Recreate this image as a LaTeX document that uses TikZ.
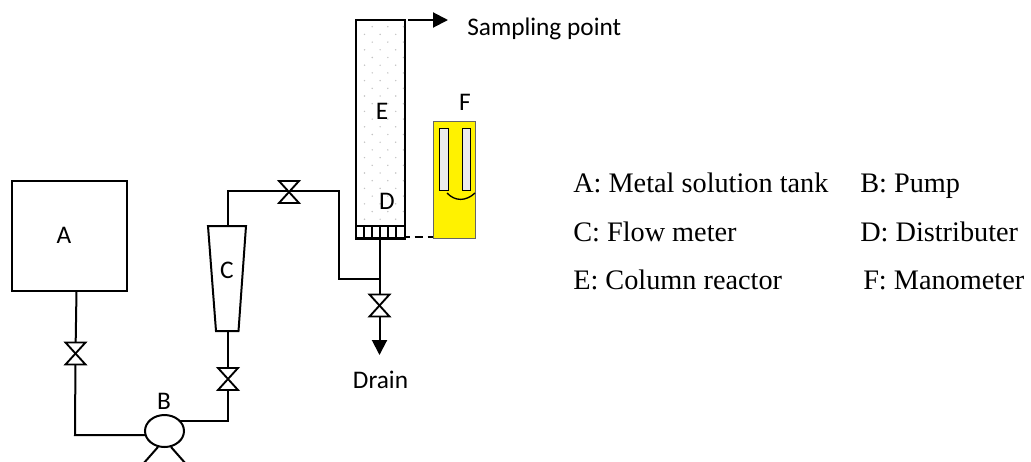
\documentclass[tikz,border=0pt]{standalone}
\usepackage{fontspec}
\setmainfont{Liberation Serif}
\newfontfamily\calfont{Carlito}
\usetikzlibrary{arrows.meta,shapes.geometric}
\definecolor{dotgrey}{RGB}{195,195,195}
\tikzset{
  pipe/.style={draw=black,line width=1.5pt},
  flow/.style={pipe,-{Triangle[length=11.25pt,width=11.25pt]}},
  vesselbox/.style={draw=black,line width=1.5pt,fill=white},
  lab/.style={font=\calfont\fontsize{19}{21}\selectfont,inner sep=0pt,text=black},
  legend/.style={font=\fontsize{21.2}{24}\selectfont,inner sep=0pt,anchor=base west,text=black},
  valveshape/.style={draw=black,line width=1.4pt,fill=white,line join=miter},
  tube/.style={draw=black,line width=0.7pt,fill=white!92!black,minimum width=6.2pt,minimum height=46.5pt,inner sep=0pt},
  px/.style={x=0.75pt,y=-0.75pt}
}
\newcommand{\vvalve}[2]{\draw[valveshape] (#1-10,#2-11) -- (#1+10,#2-11) -- (#1-10,#2+11) -- (#1+10,#2+11) -- cycle;}
\begin{document}
\begin{tikzpicture}[px]
\useasboundingbox (0,0) rectangle (1031,461);
\begin{scope}
\clip (0,0) rectangle (1031,461);
% tank A
\node[vesselbox,minimum width=86.25pt,minimum height=82.5pt,inner sep=0pt] (A) at (69,236) {};
\node[lab] (Alab) at (64,235) {A};
% pump
\node[draw=black,line width=1.5pt,fill=white,ellipse,minimum width=29.25pt,minimum height=24pt,inner sep=0pt] (B) at (164.5,431) {};
\node[lab] (Blab) at (164,401) {B};
\coordinate (legL1) at (158,447); \coordinate (legL2) at (143,464);
\coordinate (legR1) at (171,447); \coordinate (legR2) at (186,464);
\draw[pipe] (legL1) -- (legL2);
\draw[pipe] (legR1) -- (legR2);
% pipes
\coordinate (aout) at (76.5,291);
\coordinate (avalve) at (75.5,353.5);
\coordinate (bleft) at (145,435);
\coordinate (bright) at (180,421);
\coordinate (cbot) at (228,331);
\coordinate (ctop) at (228,226);
\coordinate (distb) at (379.5,238);
\coordinate (drainend) at (379.5,355);
\draw[pipe] (aout) -- (avalve) -- (75,435) -- (bleft);
\draw[pipe] (bright) -- (228,421) -- (cbot);
\draw[pipe] (ctop) -- (228,191) -- (339,191) -- (339,279) -- (379.5,279);
\draw[flow] (distb) -- (drainend);
% flow meter C
\draw[vesselbox] (208,226) -- (246,226) -- (238.5,331) -- (216,331) -- cycle;
\node[lab] (Clab) at (227,270) {C};
% valves
\vvalve{75.5}{353.5}
\vvalve{228}{379}
\vvalve{289}{192}
\vvalve{379.5}{305.5}
% column E
\node[vesselbox,minimum width=36.75pt,minimum height=163.5pt,inner sep=0pt] (E) at (380.5,129) {};
\begin{scope}
\clip (E.south west) rectangle (E.north east);
\foreach \r in {0,...,26}{
  \pgfmathsetmacro{\off}{mod(\r+1,2)*7.7}
  \foreach \c in {0,...,2}{
    \fill[dotgrey] ({364.5+\c*15.6+\off},{26.7+\r*7.7}) circle (0.8);
  }
}
\end{scope}
\node[lab] (Elab) at (382,111) {E};
\node[lab] (Dlab) at (387,201) {D};
% distributor
\node[draw=black,line width=1.5pt,fill=white,minimum width=36.75pt,minimum height=9pt,inner sep=0pt] (D) at (380.5,232) {};
\foreach \x in {364,372,380,388,396}{\draw[black,line width=1.1pt] (\x,227) -- (\x,238);}
\draw[black,line width=2.2pt] (D.south west) -- (D.south east);
% sampling
\coordinate (sampstart) at (408,20);
\coordinate (sampend) at (448,20);
\draw[flow] (sampstart) -- (sampend);
\node[lab,anchor=base west] (samp) at (467,35) {Sampling point};
\node[lab,anchor=base] (drain) at (380.5,388) {Drain};
% manometer F
\node[draw=black!60,line width=0.6pt,fill=yellow,minimum width=31.5pt,minimum height=87.75pt,inner sep=0pt] (F) at (454,179.5) {};
\node[lab] (Flab) at (465,102) {F};
\node[tube] (t1) at (444,159) {};
\node[tube] (t2) at (466.3,159) {};
\draw[black,line width=1pt] (447,193) .. controls (455,201.5) and (466,201.5) .. (475,193);
\coordinate (dS) at (405,236.7);
\draw[black,line width=1.5pt,dash pattern=on 6pt off 3.75pt,dash phase=2.6pt] (dS) -- (F.west |- dS);
% legend
\node[legend] (l1) at (573,192) {A: Metal solution tank};
\node[legend] (l2) at (860,192) {B: Pump};
\node[legend] (l3) at (573,241) {C: Flow meter};
\node[legend] (l4) at (860,241) {D: Distributer};
\node[legend] (l5) at (573,289) {E: Column reactor};
\node[legend] (l6) at (863,289) {F: Manometer};
\end{scope}
\end{tikzpicture}
\end{document}
